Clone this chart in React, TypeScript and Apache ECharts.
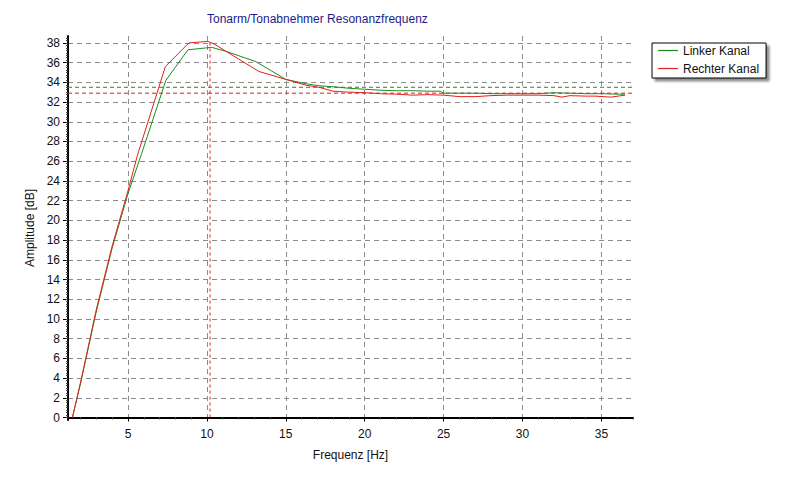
import React, { useEffect, useRef } from 'react';
import * as echarts from 'echarts';

const FONT = '"Liberation Sans", Arial, sans-serif';

const titleText = 'Tonarm/Tonabnehmer Resonanzfrequenz';
const xName = 'Frequenz [Hz]';
const yName = 'Amplitude [dB]';
const seriesNames = ['Linker Kanal', 'Rechter Kanal'];

const xMin = 1.2;
const xMax = 37;
const yMin = -0.25;
const yMax = 38.7;

const xTicks = [5, 10, 15, 20, 25, 30, 35];
const xMinorTicks = [2, 3, 4, 6, 7, 8, 9, 11, 12, 13, 14, 16, 17, 18, 19, 21, 22, 23, 24, 26, 27, 28, 29, 31, 32, 33, 34, 36, 37];
const yTicks = [0, 2, 4, 6, 8, 10, 12, 14, 16, 18, 20, 22, 24, 26, 28, 30, 32, 34, 36, 38];
const yMinorTicks: number[] = [];
for (let i = 0; i <= 154; i++) yMinorTicks.push(i * 0.25);

// Linker Kanal (green)
const greenFreq = [1.48, 2, 3, 4, 5, 5.85, 7.4, 8.8, 10.3, 11.2, 13.1, 15, 16.3, 17.1, 18, 19, 20, 21, 22, 23, 24, 24.8, 25, 26, 27, 28, 29, 30, 31, 32, 33, 34, 35, 36, 36.5];
const greenAmp = [0, 3.5, 10.8, 17.2, 22.7, 26.7, 34.2, 37.3, 37.55, 37.15, 36.1, 34.3, 33.85, 33.65, 33.55, 33.4, 33.3, 33.2, 33.15, 33.15, 33.1, 33.1, 32.9, 32.9, 32.9, 32.85, 32.85, 32.85, 32.85, 32.95, 32.9, 32.85, 32.85, 32.8, 32.8];

// Rechter Kanal (red)
const redFreq = [1.48, 2, 3, 4, 5, 5.6, 7.37, 8.86, 10.06, 10.5, 13.3, 15, 16.3, 17.1, 18, 19, 20, 21, 22, 23, 24, 25, 26, 27, 28, 29, 30, 31, 32, 32.5, 33, 34, 34.6, 35.6, 36.5];
const redAmp = [0, 3.6, 11.0, 17.4, 23.0, 26.6, 35.6, 38.0, 38.15, 37.85, 35.1, 34.3, 33.7, 33.5, 33.1, 33.0, 32.95, 32.85, 32.8, 32.7, 32.75, 32.7, 32.55, 32.55, 32.65, 32.7, 32.7, 32.7, 32.65, 32.5, 32.65, 32.6, 32.6, 32.5, 32.7];

const greenLevel = 33.5;
const redLevel = 32.9;
const resonanceFreq = 10.2;
const resonancePeak = 38.15;

const GREEN = '#1f8a1f';
const RED = '#e41e1e';
const GRID = '#8c8c8c';

const toPairs = (xs: number[], ys: number[]) => xs.map((x, i) => [x, ys[i]]);

const refLine = (id: string, data: number[][], color: string, dash: number[]) => ({
  id,
  type: 'line',
  data,
  symbol: 'none',
  silent: true,
  color,
  lineStyle: { color, width: 1, type: dash },
  z: 2,
  emphasis: { disabled: true },
});

export default function App() {
  const ref = useRef<HTMLDivElement>(null);
  useEffect(() => {
    if (!ref.current) return;
    const chart = echarts.init(ref.current, undefined, { renderer: 'svg' });
    const labelStyle = { fontFamily: FONT, fontSize: 12, color: '#111' };
    const option: any = {
      animation: false,
      backgroundColor: '#ffffff',
      title: {
        text: titleText,
        left: 207,
        top: 13,
        padding: 0,
        textStyle: { fontFamily: FONT, fontSize: 12, fontWeight: 'normal', color: '#1c1c8c' },
      },
      legend: {
        orient: 'vertical',
        left: 652,
        top: 43,
        padding: [1, 7, 3, 6],
        itemGap: 5,
        itemWidth: 20,
        itemHeight: 1.2,
        icon: 'rect',
        backgroundColor: '#fff',
        borderColor: '#000',
        borderWidth: 1,
        borderRadius: 0,
        shadowColor: 'rgba(0,0,0,0.45)',
        shadowBlur: 2,
        shadowOffsetX: 3,
        shadowOffsetY: 3,
        textStyle: { fontFamily: FONT, fontSize: 12, color: '#111', lineHeight: 13 },
        data: [
          { name: seriesNames[0], itemStyle: { color: GREEN } },
          { name: seriesNames[1], itemStyle: { color: RED } },
        ],
      },
      grid: { left: 68, right: 167, top: 36, bottom: 61 },
      xAxis: [
        {
          type: 'value',
          min: xMin,
          max: xMax,
          name: xName,
          nameLocation: 'middle',
          nameGap: 29,
          nameTextStyle: labelStyle,
          axisLine: { lineStyle: { color: '#000', width: 2 } },
          axisTick: { customValues: xTicks, length: 4, lineStyle: { color: '#000' } },
          axisLabel: { customValues: xTicks, margin: 8, ...labelStyle },
          splitLine: { show: true, lineStyle: { color: GRID, type: [5, 4], width: 1 } },
        },
        {
          type: 'value',
          min: xMin,
          max: xMax,
          position: 'bottom',
          axisLine: { show: false },
          axisTick: { customValues: xMinorTicks, length: 2, lineStyle: { color: '#555' } },
          axisLabel: { show: false },
          splitLine: { show: false },
        },
      ],
      yAxis: [
        {
          type: 'value',
          min: yMin,
          max: yMax,
          name: yName,
          nameLocation: 'middle',
          nameGap: 30,
          nameTextStyle: labelStyle,
          axisLine: { show: true, lineStyle: { color: '#000', width: 2 } },
          axisTick: { show: true, customValues: yTicks, length: 5, lineStyle: { color: '#000' } },
          axisLabel: { customValues: yTicks, margin: 8, ...labelStyle },
          splitLine: { show: true, lineStyle: { color: GRID, type: [5, 4], width: 1 } },
        },
        {
          type: 'value',
          min: yMin,
          max: yMax,
          position: 'left',
          axisLine: { show: false },
          axisTick: { show: true, customValues: yMinorTicks, length: 2, lineStyle: { color: '#444' } },
          axisLabel: { show: false },
          splitLine: { show: false },
        },
      ],
      series: [
        refLine('greenLevel', [[xMin, greenLevel], [xMax, greenLevel]], GREEN, [4, 3]),
        refLine('redLevel', [[xMin, redLevel], [xMax, redLevel]], RED, [4, 3]),
        refLine('resonance', [[resonanceFreq, 0], [resonanceFreq, resonancePeak]], RED, [3, 3]),
        {
          name: seriesNames[0],
          type: 'line',
          data: toPairs(greenFreq, greenAmp),
          symbol: 'none',
          color: GREEN,
          lineStyle: { color: GREEN, width: 1 },
          itemStyle: { color: GREEN },
          z: 3,
        },
        {
          name: seriesNames[1],
          type: 'line',
          data: toPairs(redFreq, redAmp),
          symbol: 'none',
          color: RED,
          lineStyle: { color: RED, width: 1 },
          itemStyle: { color: RED },
          z: 4,
        },
      ],
    };
    chart.setOption(option);
    return () => chart.dispose();
  }, []);
  return <div ref={ref} style={{ position: 'fixed', left: 0, top: 0, width: 800, height: 481 }} />;
}
